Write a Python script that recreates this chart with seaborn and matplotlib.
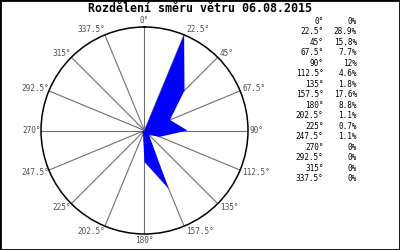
import numpy as np
import matplotlib
matplotlib.use("Agg")
import matplotlib.pyplot as plt
import matplotlib.transforms as mtransforms
from matplotlib.patches import Rectangle
import seaborn as sns

# ---- data ----
directions = [0, 22.5, 45, 67.5, 90, 112.5, 135, 157.5,
              180, 202.5, 225, 247.5, 270, 292.5, 315, 337.5]
percent = [0, 28.9, 15.8, 7.7, 12, 4.6, 1.8, 17.6,
           8.8, 1.1, 0.7, 1.1, 0, 0, 0, 0]
percent_labels = ["0%", "28.9%", "15.8%", "7.7%", "12%", "4.6%", "1.8%", "17.6%",
                  "8.8%", "1.1%", "0.7%", "1.1%", "0%", "0%", "0%", "0%"]
title = "Rozdělení směru větru 06.08.2015"

sns.set_theme(style="white")
plt.rcParams['font.family'] = ['DejaVu Sans Mono', 'DejaVu Sans']

W, H = 400, 250
fig = plt.figure(figsize=(W / 100, H / 100), dpi=100)
fig.patch.set_facecolor("white")

cx, cy, R = 144.5, 130.5, 103.5
ax = fig.add_axes([(cx - R) / W, (H - cy - R) / H, 2 * R / W, 2 * R / H],
                  projection="polar")
ax.set_theta_zero_location("N")
ax.set_theta_direction(-1)
ax.set_facecolor("white")

theta = np.deg2rad(directions)
rmax = max(percent)
ax.set_ylim(0, rmax)
ax.set_yticks([])
ax.set_xticks(theta)
ax.set_xticklabels([])
ax.xaxis.grid(True, color="#707070", linewidth=0.8)
ax.set_axisbelow(True)
ax.spines["polar"].set_color("black")
ax.spines["polar"].set_linewidth(1.1)

th_closed = np.append(theta, theta[0])
r_closed = np.append(percent, percent[0])
ax.fill(th_closed, r_closed, color="#0000ff", linewidth=0, zorder=3)

# direction labels around the circle
for d, t in zip(directions, theta):
    lab = f"{d:g}°"
    if d == 0:
        ha, va, dx, dy = "center", "bottom", 0, 2
    elif d == 180:
        ha, va, dx, dy = "center", "top", 0, -2
    elif d < 180:
        ha, va, dx, dy = "left", "center", 2, 6 * np.cos(t)
    else:
        ha, va, dx, dy = "right", "center", 0, 6 * np.cos(t)
    tr = mtransforms.offset_copy(ax.transData, fig=fig, x=dx, y=dy, units="dots")
    ax.text(t, rmax, lab, transform=tr, ha=ha, va=va, fontsize=5.6,
            color="#505050", clip_on=False)

# table on the right
y0, step = 21, 10.53
for i, (d, p) in enumerate(zip(directions, percent_labels)):
    y = 1 - (y0 + i * step) / H
    fig.text(323.5 / W, y, f"{d:g}°", ha="right", va="center", fontsize=5.6, color="black")
    fig.text(357 / W, y, p, ha="right", va="center", fontsize=5.6, color="black")

fig.text(200 / W, 1 - 9 / H, title, ha="center", va="center", fontsize=8.4,
         fontweight="bold", color="black")

fig.add_artist(Rectangle((0, 0), 1, 1, transform=fig.transFigure, fill=False,
                         edgecolor="black", linewidth=2))

fig.savefig("out.png", dpi=100, facecolor="white")
